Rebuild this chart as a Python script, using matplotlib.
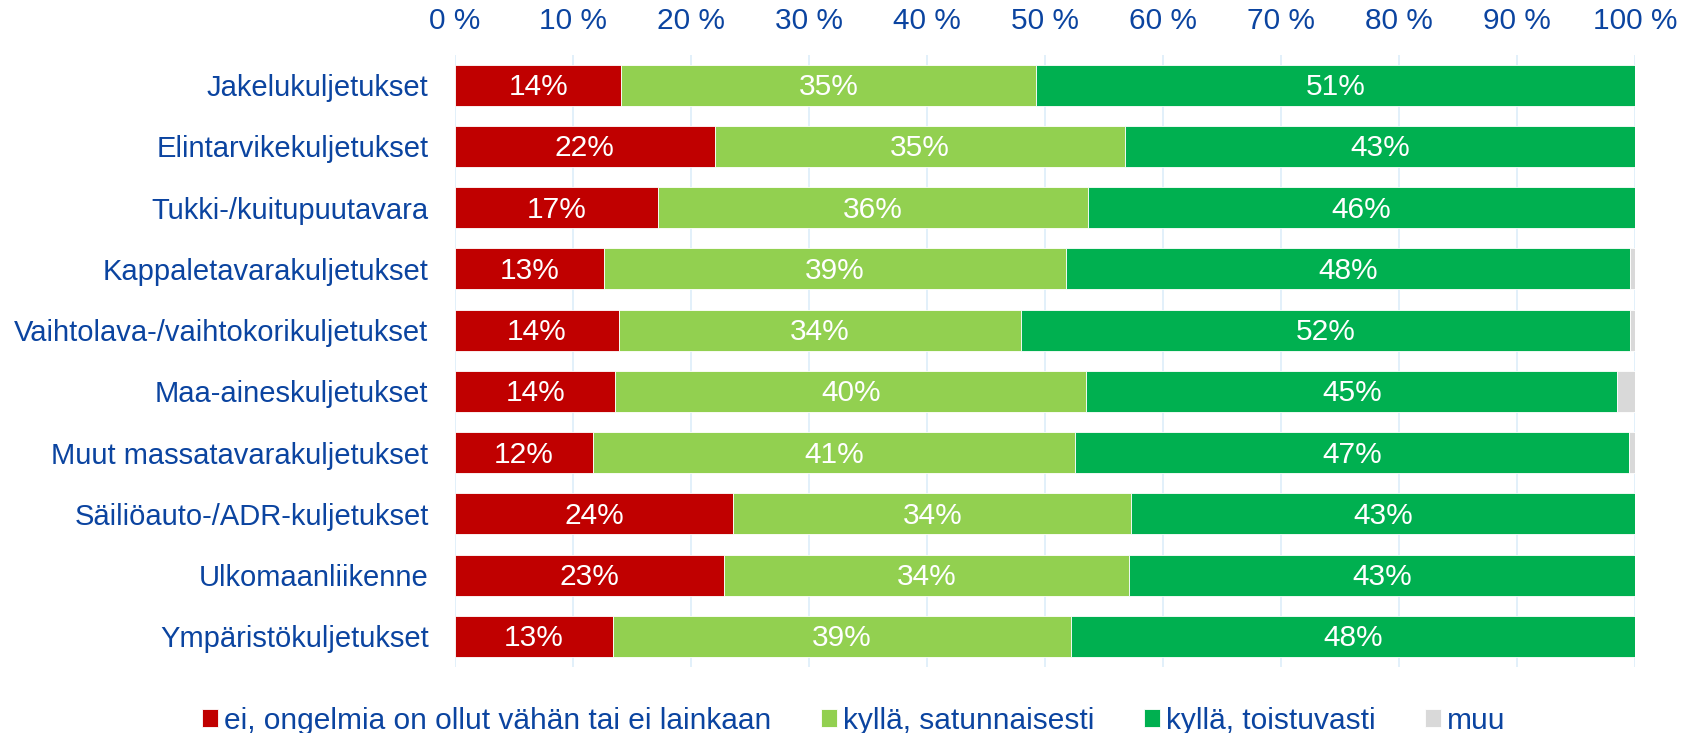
import matplotlib
matplotlib.use("Agg")
import matplotlib.pyplot as plt
import numpy as np

categories = ["Jakelukuljetukset", "Elintarvikekuljetukset", "Tukki-/kuitupuutavara",
              "Kappaletavarakuljetukset", "Vaihtolava-/vaihtokorikuljetukset",
              "Maa-aineskuljetukset", "Muut massatavarakuljetukset",
              "Säiliöauto-/ADR-kuljetukset", "Ulkomaanliikenne", "Ympäristökuljetukset"]
series_names = ["ei, ongelmia on ollut vähän tai ei lainkaan", "kyllä, satunnaisesti",
                "kyllä, toistuvasti", "muu"]
ei = [14.1, 22.0, 17.2, 12.6, 13.9, 13.6, 11.7, 23.6, 22.8, 13.4]
satunnaisesti = [35.1, 34.8, 36.4, 39.2, 34.1, 39.9, 40.8, 33.7, 34.3, 38.8]
toistuvasti = [50.8, 43.2, 46.4, 47.8, 51.6, 45.0, 47.0, 42.7, 42.9, 47.8]
muu = [0.0, 0.0, 0.0, 0.4, 0.4, 1.5, 0.5, 0.0, 0.0, 0.0]
xticks = [0, 10, 20, 30, 40, 50, 60, 70, 80, 90, 100]
xticklabels = [f"{t} %" for t in xticks]

colors = ["#C00000", "#92D050", "#00B050", "#D9D9D9"]
text_color = "#0B44A0"

plt.rcParams["font.family"] = ["Liberation Sans", "DejaVu Sans"]

fig = plt.figure(figsize=(16.94, 7.33), dpi=100)
ax = fig.add_axes([0.2686, 0.090, 0.9652 - 0.2686, 0.9255 - 0.090])

y = np.arange(len(categories))
left = np.zeros(len(categories))
bars = []
for vals, col, name in zip([ei, satunnaisesti, toistuvasti, muu], colors, series_names):
    vals = np.array(vals)
    b = ax.barh(y, vals, left=left, height=0.67, color=col, label=name,
                edgecolor="white", linewidth=0.6, zorder=3)
    bars.append(b)
    if name != "muu":
        for yi, l, v in zip(y, left, vals):
            ax.text(l + v / 2, yi + 0.03, f"{v:.0f}%", ha="center", va="center",
                    color="white", fontsize=21.5, zorder=4)
    left = left + vals

ax.set_xlim(0, 100)
ax.set_ylim(len(categories) - 0.5, -0.5)
ax.set_xticks(xticks)
ax.set_xticklabels(xticklabels)
ax.xaxis.tick_top()
ax.set_yticks(y)
ax.set_yticklabels(categories)
ax.tick_params(axis="x", length=0, pad=14, labelsize=21.5, labelcolor=text_color)
ax.tick_params(axis="y", length=0, pad=19, labelsize=21, labelcolor=text_color)
for s in ax.spines.values():
    s.set_visible(False)
ax.grid(axis="x", color="#DDEEFA", linewidth=1.2, zorder=0)
ax.set_axisbelow(True)

fig.legend(handles=bars, labels=series_names, loc="center", bbox_to_anchor=(0.504, 0.017),
           ncol=4, frameon=False, fontsize=21.5, labelcolor=text_color,
           handlelength=0.55, handleheight=0.55, handletextpad=0.2, columnspacing=1.65)

fig.savefig("out.png", dpi=100)
